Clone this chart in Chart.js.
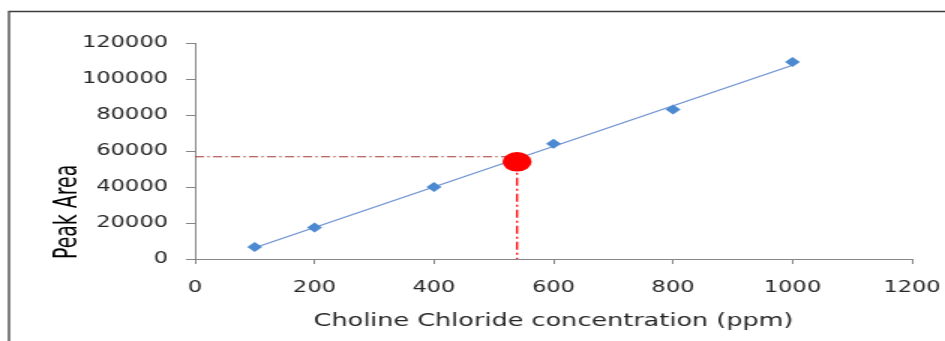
<!DOCTYPE html>
<html>
<head>
<meta charset="utf-8">
<script src="https://cdn.jsdelivr.net/npm/chart.js@4/dist/chart.umd.min.js"></script>
<style>
  html, body { margin: 0; padding: 0; background: #ffffff; overflow: hidden; }
  /* the chart is laid out narrow and widened 1.5x, giving the wide lettering and oval marks */
  #wrap { position: absolute; left: 0; top: 0; width: 630px; height: 341px;
          transform: scaleX(1.5); transform-origin: 0 0; }
</style>
</head>
<body>
<div id="wrap"><canvas id="cal"></canvas></div>
<script>
// Calibration standards: concentration (ppm) and measured peak area
const concentrations = [100, 200, 400, 600, 800, 1000];
const peakAreas = [6600, 17500, 40000, 64000, 83000, 109500];

// Linear calibration line, endpoints
const fitConc = [100, 1000];
const fitArea = [6200, 107600];

// Unknown sample
const sampleConc = 539;
const samplePeak = 54000;
const sampleReadArea = 56800;

// Axis tick values
const xTickValues = [0, 200, 400, 600, 800, 1000, 1200];
const yTickValues = [0, 20000, 40000, 60000, 80000, 100000, 120000];

const pts = (xs, ys) => xs.map((x, i) => ({ x: x, y: ys[i] }));

// top and left edge of the surrounding frame
const framePlugin = {
  id: 'frame',
  beforeDraw(chart) {
    const c = chart.ctx;
    c.save();
    c.fillStyle = '#ffffff';
    c.fillRect(0, 0, chart.width, chart.height);
    c.strokeStyle = '#3c3c3c';
    c.lineWidth = 1.3;
    c.beginPath();
    c.moveTo(6, chart.height + 2);
    c.lineTo(6, 11.5);
    c.lineTo(chart.width + 2, 11.5);
    c.stroke();
    c.restore();
  }
};

const axisColor = '#868686';
const textColor = '#262626';

new Chart(document.getElementById('cal'), {
  type: 'scatter',
  data: {
    datasets: [
      {
        label: 'Sample',
        data: [{ x: sampleConc, y: samplePeak }],
        pointStyle: 'circle',
        pointRadius: 9.7,
        backgroundColor: '#ff0000',
        borderColor: '#ff0000',
        borderWidth: 0,
        order: 0
      },
      {
        label: 'Standards',
        data: pts(concentrations, peakAreas),
        pointStyle: 'rectRot',
        pointRadius: 5,
        backgroundColor: '#4b8ad0',
        borderColor: '#4b8ad0',
        borderWidth: 0,
        order: 1
      },
      {
        label: 'Calibration line',
        data: pts(fitConc, fitArea),
        showLine: true,
        pointRadius: 0,
        borderColor: '#6d90d2',
        borderWidth: 1.1,
        order: 2
      },
      {
        label: 'Area read-off',
        data: [{ x: 0, y: sampleReadArea }, { x: sampleConc, y: sampleReadArea }],
        showLine: true,
        pointRadius: 0,
        borderColor: '#a23a36',
        borderWidth: 1.2,
        borderDash: [6, 2.3, 1.4, 2.3],
        order: 3
      },
      {
        label: 'Concentration read-off',
        data: [{ x: sampleConc, y: samplePeak }, { x: sampleConc, y: 0 }],
        showLine: true,
        pointRadius: 0,
        borderColor: '#ff0000',
        borderWidth: 1.3,
        borderDash: [8, 3, 2, 3],
        order: 4
      }
    ]
  },
  options: {
    responsive: true,
    maintainAspectRatio: false,
    animation: false,
    events: [],
    layout: { padding: { left: 28, right: 22, top: 43, bottom: 0 } },
    plugins: { legend: { display: false }, tooltip: { enabled: false } },
    scales: {
      x: {
        type: 'linear',
        min: 0,
        max: 1200,
        afterBuildTicks: s => { s.ticks = xTickValues.map(v => ({ value: v })); },
        afterFit: s => { s.height = 82; s.paddingLeft = 0; s.paddingRight = 0; },
        grid: { display: true, drawOnChartArea: false, drawTicks: true, tickLength: 5, color: axisColor },
        border: { display: true, color: axisColor, width: 1 },
        ticks: {
          color: textColor,
          padding: 15,
          maxRotation: 0,
          font: { family: 'DejaVu Sans', size: 15 },
          callback: v => String(v)
        },
        title: {
          display: true,
          text: 'Choline Chloride concentration (ppm)',
          color: textColor,
          font: { family: 'DejaVu Sans', size: 17 },
          padding: { top: 0, bottom: 9 }
        }
      },
      y: {
        type: 'linear',
        min: 0,
        max: 120000,
        afterBuildTicks: s => { s.ticks = yTickValues.map(v => ({ value: v })); },
        afterFit: s => { s.width = 102; s.paddingTop = 0; s.paddingBottom = 0; },
        grid: { display: true, drawOnChartArea: false, drawTicks: true, tickLength: 6, color: axisColor },
        border: { display: true, color: axisColor, width: 1 },
        ticks: {
          color: textColor,
          padding: 12,
          font: { family: 'DejaVu Sans', size: 15 },
          callback: v => String(v)
        },
        title: {
          display: true,
          text: 'Peak Area',
          align: 'start',
          color: '#000000',
          font: { family: "'Liberation Sans Narrow', 'DejaVu Sans Condensed', 'DejaVu Sans'", size: 21 },
          padding: { top: 5, bottom: 0 }
        }
      }
    }
  },
  plugins: [framePlugin]
});
</script>
</body>
</html>
